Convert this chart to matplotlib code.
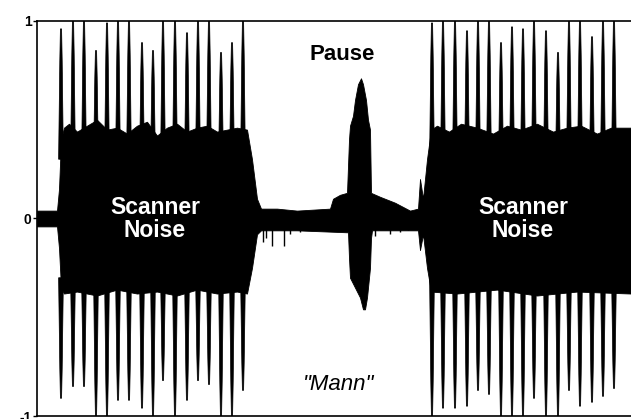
import numpy as np
import matplotlib.pyplot as plt

plt.rcParams['font.family'] = ['Liberation Sans', 'DejaVu Sans']

# scanner pulses (time in s) with peak amplitudes
left_spike_t = [0.120, 0.180, 0.235, 0.295, 0.350, 0.405, 0.460, 0.525, 0.580,
                0.630, 0.690, 0.750, 0.805, 0.860, 0.920, 0.975, 1.030]
left_spike_up = [0.96, 1.0, 1.0, 0.85, 0.99, 1.0, 1.0, 0.89, 0.85,
                 1.0, 1.0, 0.94, 1.0, 1.0, 0.84, 0.89, 1.0]
left_spike_dn = [-0.91, -0.85, -0.85, -1.0, -1.0, -0.92, -0.92, -0.96, -1.0,
                 -0.82, -1.0, -0.92, -0.82, -0.84, -1.0, -1.0, -0.87]

right_spike_t = [1.975, 2.030, 2.090, 2.150, 2.205, 2.260, 2.320, 2.375, 2.430,
                 2.485, 2.545, 2.605, 2.660, 2.715, 2.775, 2.830, 2.885]
right_spike_up = [0.99, 1.0, 1.0, 0.95, 1.0, 1.0, 0.89, 0.97, 0.96,
                  1.0, 0.95, 0.84, 1.0, 1.0, 0.92, 1.0, 1.0]
right_spike_dn = [-1.0, -0.96, -0.96, -0.95, -0.87, -0.89, -1.0, -1.0, -1.0,
                  -0.91, -1.0, -1.0, -0.87, -0.95, -0.93, -0.90, -0.86]

# envelope of the waveform (upper / lower), read at key times
env_up_t = [0.000, 0.100, 0.110, 0.120, 0.135, 0.160, 0.200, 0.250, 0.300, 0.350,
            0.400, 0.450, 0.500, 0.550, 0.600, 0.650, 0.700, 0.750, 0.800, 0.850,
            0.900, 0.950, 1.000, 1.050, 1.075, 1.100, 1.120,
            1.200, 1.300, 1.465, 1.480, 1.515, 1.550, 1.560, 1.565, 1.580, 1.590,
            1.605, 1.620, 1.630, 1.645, 1.655, 1.665, 1.670, 1.715, 1.790, 1.865,
            1.905, 1.915, 1.930, 1.950, 1.970, 2.000, 2.060, 2.120, 2.200, 2.280,
            2.350, 2.420, 2.500, 2.580, 2.650, 2.720, 2.800, 2.870, 2.970]
env_up_v = [0.04, 0.04, 0.15, 0.40, 0.46, 0.48, 0.44, 0.47, 0.50, 0.45,
            0.46, 0.43, 0.47, 0.49, 0.42, 0.46, 0.48, 0.44, 0.46, 0.47,
            0.44, 0.45, 0.46, 0.45, 0.30, 0.10, 0.05,
            0.05, 0.04, 0.05, 0.10, 0.12, 0.13, 0.40, 0.47, 0.52, 0.60,
            0.68, 0.71, 0.68, 0.60, 0.50, 0.45, 0.13, 0.11, 0.08, 0.04,
            0.05, 0.20, 0.10, 0.30, 0.45, 0.47, 0.44, 0.48, 0.46, 0.43,
            0.47, 0.45, 0.48, 0.44, 0.46, 0.47, 0.43, 0.46, 0.46]

env_dn_t = [0.000, 0.100, 0.110, 0.120, 0.135, 0.200, 0.300, 0.400, 0.500, 0.600,
            0.700, 0.800, 0.900, 1.000, 1.050, 1.075, 1.100, 1.120,
            1.300, 1.555, 1.560, 1.565, 1.590, 1.615, 1.630, 1.640, 1.650, 1.665,
            1.670, 1.675,
            1.905, 1.915, 1.930, 1.950, 1.970, 2.100, 2.300, 2.500, 2.700, 2.970]
env_dn_v = [-0.04, -0.04, -0.15, -0.35, -0.38, -0.37, -0.39, -0.36, -0.38, -0.37,
            -0.39, -0.36, -0.38, -0.37, -0.38, -0.25, -0.08, -0.06,
            -0.06, -0.07, -0.20, -0.30, -0.35, -0.40, -0.46, -0.46, -0.40, -0.25,
            -0.10, -0.06,
            -0.06, -0.16, -0.08, -0.25, -0.37, -0.38, -0.36, -0.39, -0.37, -0.38]

# small ticks in the quiet gap
gap_tick_t = [1.130, 1.145, 1.175, 1.235, 1.265, 1.315, 1.690, 1.765, 1.815, 1.855]
gap_tick_v = [-0.12, -0.10, -0.14, -0.14, -0.08, -0.07, -0.09, -0.08, -0.07, -0.06]

fig = plt.figure(figsize=(6.31, 4.19), dpi=100)
ax = fig.add_axes([37 / 631, 3 / 419, 1 - 37 / 631, 395 / 419])

ax.fill_between(env_up_t, 0, env_up_v, color='black', lw=0.6)
ax.fill_between(env_dn_t, env_dn_v, 0, color='black', lw=0.6)
ax.vlines(gap_tick_t, 0, gap_tick_v, color='black', lw=1.0)


def draw_spikes(times, peaks, base):
    for t, p in zip(times, peaks):
        mid = base + 0.75 * (p - base)
        xs = [t - 0.012, t - 0.006, t - 0.003, t + 0.003, t + 0.006, t + 0.012]
        ys = [base, mid, p, p, mid, base]
        ax.fill(xs, ys, color='black', lw=0.5, ec='black')


draw_spikes(left_spike_t, left_spike_up, 0.3)
draw_spikes(left_spike_t, left_spike_dn, -0.3)
draw_spikes(right_spike_t, right_spike_up, 0.3)
draw_spikes(right_spike_t, right_spike_dn, -0.3)

ax.set_xlim(0, 2.97)
ax.set_ylim(-1, 1)
ax.set_xticks([])
ax.set_yticks([-1, 0, 1])
ax.set_yticklabels(['-1', '0', '1'], fontsize=10, fontweight='bold')
ax.tick_params(axis='y', length=3, width=1, pad=1)
ax.spines['right'].set_visible(False)
for s in ['left', 'top', 'bottom']:
    ax.spines[s].set_linewidth(1.2)

ax.text(0.59, 0.0, 'Scanner\nNoise', color='white', fontsize=16.5, fontweight='bold',
        ha='center', va='center', linespacing=1.0)
ax.text(2.43, 0.0, 'Scanner\nNoise', color='white', fontsize=16.5, fontweight='bold',
        ha='center', va='center', linespacing=1.0)
ax.text(1.525, 0.83, 'Pause', color='black', fontsize=16, fontweight='bold',
        ha='center', va='center')
ax.text(1.51, -0.84, '"Mann"', color='black', fontsize=16, fontstyle='italic',
        ha='center', va='center')

fig.savefig('out.png', dpi=100)
